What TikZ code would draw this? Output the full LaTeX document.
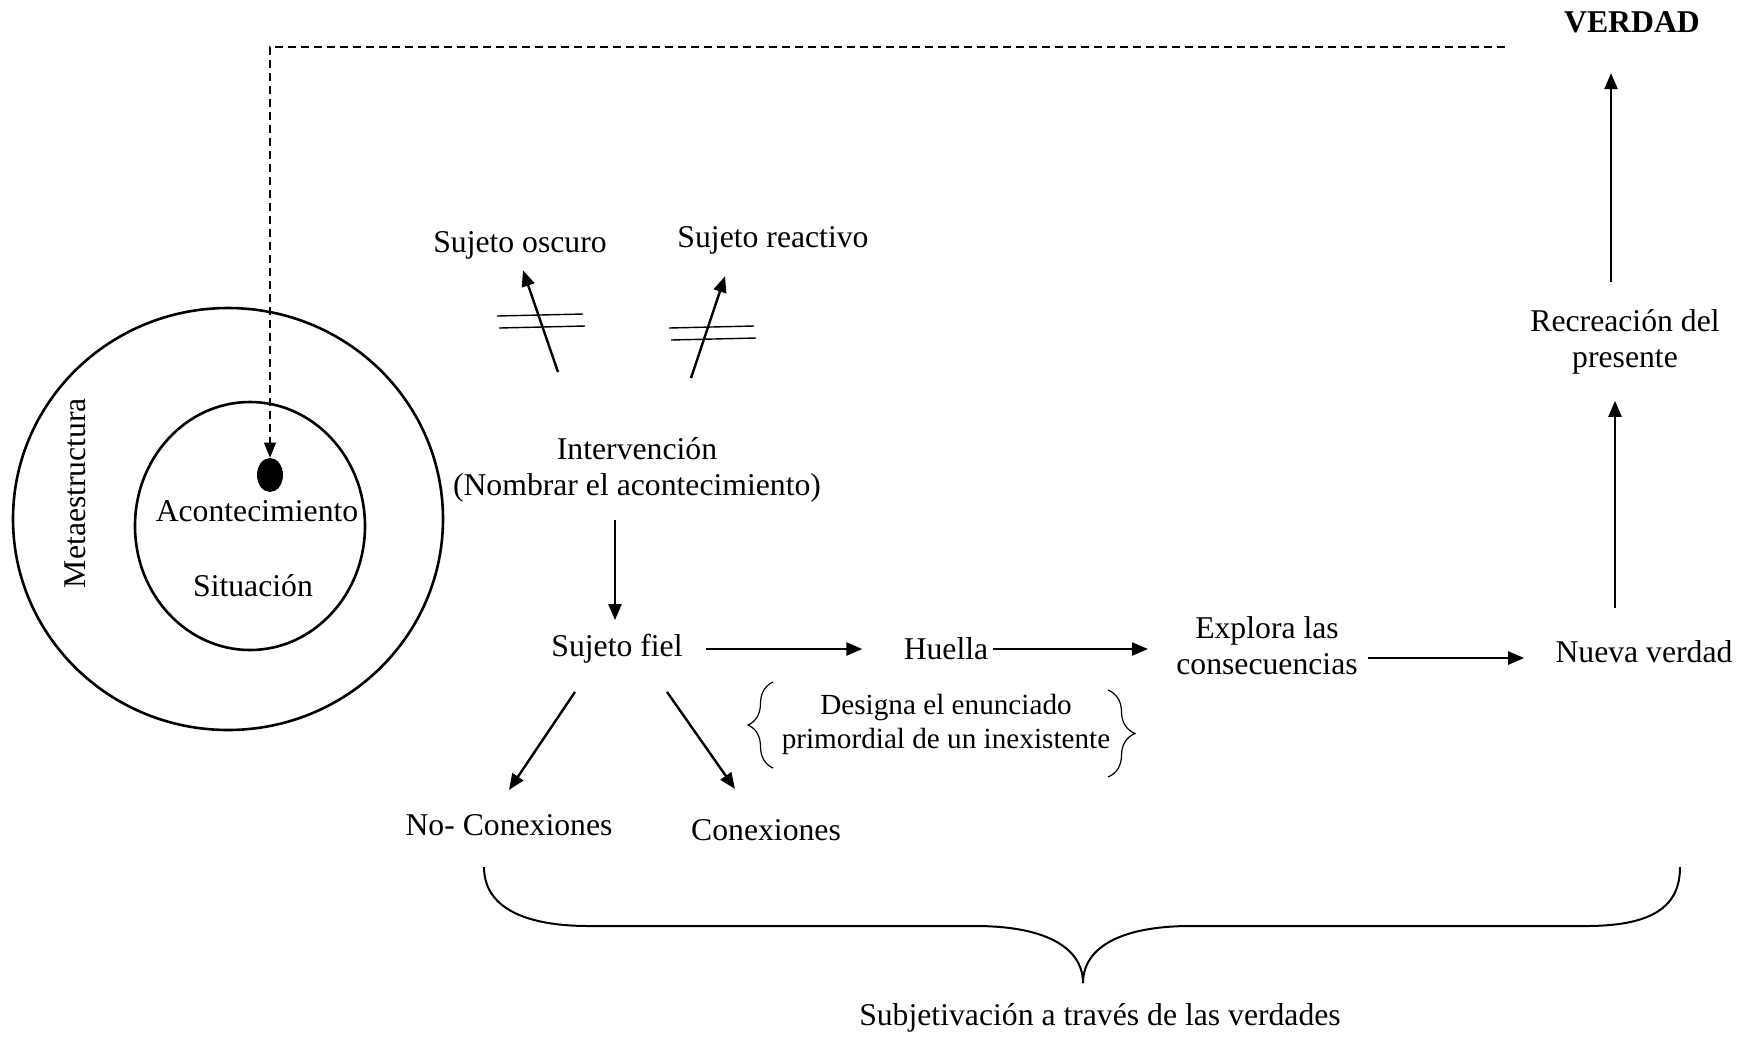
\documentclass[tikz,border=0pt]{standalone}
\usepackage{fontspec}
\setmainfont{Liberation Serif}
\usetikzlibrary{arrows.meta,shapes.geometric,decorations.pathreplacing}
\begin{document}
\begin{tikzpicture}[x=0.5pt,y=-0.5pt,
  lbl/.style={font=\fontsize{15.85pt}{18pt}\selectfont, inner sep=0pt, align=center},
  small/.style={font=\fontsize{14.6pt}{17pt}\selectfont, inner sep=0pt, align=center},
  arr/.style={line width=1.2pt,-{Triangle[length=8pt,width=6.5pt]}},
  ring/.style={draw,ellipse,line width=1.3pt,inner sep=0pt},
  bar/.style={line width=0.7pt},
  brc/.style={decorate,decoration={brace,amplitude=12.5pt},line width=0.6pt}]
\useasboundingbox (0,0) rectangle (1751,1040);

% circles
\node[ring, minimum width=215pt, minimum height=211pt] (outer) at (228,519) {};
\node[ring, minimum width=115pt, minimum height=124pt] (inner) at (250,526) {};
\node[ellipse, fill, minimum width=13pt, minimum height=17pt, inner sep=0pt] (dot) at (270,475) {};
\node[lbl, rotate=90] (met) at (75,493) {Metaestructura};
\node[lbl] (aco) at (257,511) {Acontecimiento};
\node[lbl] (sit) at (253,586) {Situación};

% texts
\node[lbl, font=\fontsize{15.85pt}{18pt}\selectfont\bfseries] (ver) at (1632,22) {VERDAD};
\node[lbl] (rec) at (1625,342) {Recreación del\\presente};
\node[lbl] (nv) at (1644,652) {Nueva verdad};
\node[lbl] (exp) at (1267,646) {Explora las\\consecuencias};
\node[lbl] (hu) at (946,649) {Huella};
\node[lbl] (sf) at (617,649) {Sujeto fiel};
\node[lbl] (int) at (637,470) {Intervención\\(Nombrar el acontecimiento)};
\node[lbl] (so) at (520,245) {Sujeto oscuro};
\node[lbl] (sr) at (773,240) {Sujeto reactivo};
\node[lbl] (nc) at (509,825) {No- Conexiones};
\node[lbl] (con) at (766,830) {Conexiones};
\node[small] (des) at (946,724) {Designa el enunciado\\primordial de un inexistente};
\node[lbl] (sub) at (1100,1018) {Subjetivación a través de las verdades};

% dashed feedback line
\coordinate (dstart) at (1505,47);
\draw[line width=0.6pt, dash pattern=on 4pt off 2.5pt, -{Triangle[length=7.5pt,width=6pt]}] (dstart) -| (dot.north);

% arrows
\draw[arr, shorten <=11.5pt, shorten >=20.5pt] (sf.east) -- (hu.west);
\draw[arr, shorten <=2pt, shorten >=14pt] (hu.east) -- (hu.east -| exp.west);
\draw[arr, shorten <=5pt, shorten >=15.5pt] ([yshift=-6pt]exp.east) -- ([yshift=-6pt]exp.east -| nv.west);
\draw[arr, shorten <=16pt, shorten >=13pt] ([xshift=-14.5pt]nv.north) -- ([xshift=-14.5pt]nv.north |- rec.south);
\draw[arr, shorten <=13.5pt, shorten >=20pt] ([xshift=-7pt]rec.north) -- ([xshift=-7pt]rec.north |- ver.south);
\draw[arr, shorten <=8.5pt, shorten >=7pt] ([xshift=-11pt]int.south) -- ([xshift=-11pt]int.south |- sf.north);
\draw[arr] ([xshift=-21pt,yshift=-14pt]sf.south) -- ([yshift=12pt]nc.north);
\draw[arr] ([xshift=25pt,yshift=-14pt]sf.south) -- ([xshift=-15.5pt,yshift=15pt]con.north);
\coordinate (os) at (558,372);
\coordinate (rs) at (691,378);
\draw[arr] (os) -- ([xshift=1.5pt,yshift=-5.5pt]so.south);
\draw[arr] (rs) -- ([xshift=-24pt,yshift=-11pt]sr.south);

% "not equal" bars
\draw[bar] (497,316) -- (583,314);
\draw[bar] (499,328) -- (585,326);
\draw[bar] (669,328) -- (754,326);
\draw[bar] (671,340) -- (756,338);

% braces around the note
\draw[brc] (773,768) -- (773,682);
\draw[brc, decoration={amplitude=13.5pt}] (1108,690) -- (1108,777);

% big brace
\coordinate (bl) at (484,867);
\coordinate (br) at (1680,867);
\coordinate (bt) at (1083,983);
\draw[line width=1pt] (bl) .. controls (484,905) and (520,926) .. (589,926)
  -- (975,926) .. controls (1050,926) and (1083,950) .. (bt)
  .. controls (1083,950) and (1116,926) .. (1191,926)
  -- (1586,926) .. controls (1655,926) and (1680,905) .. (br);
\end{tikzpicture}
\end{document}
